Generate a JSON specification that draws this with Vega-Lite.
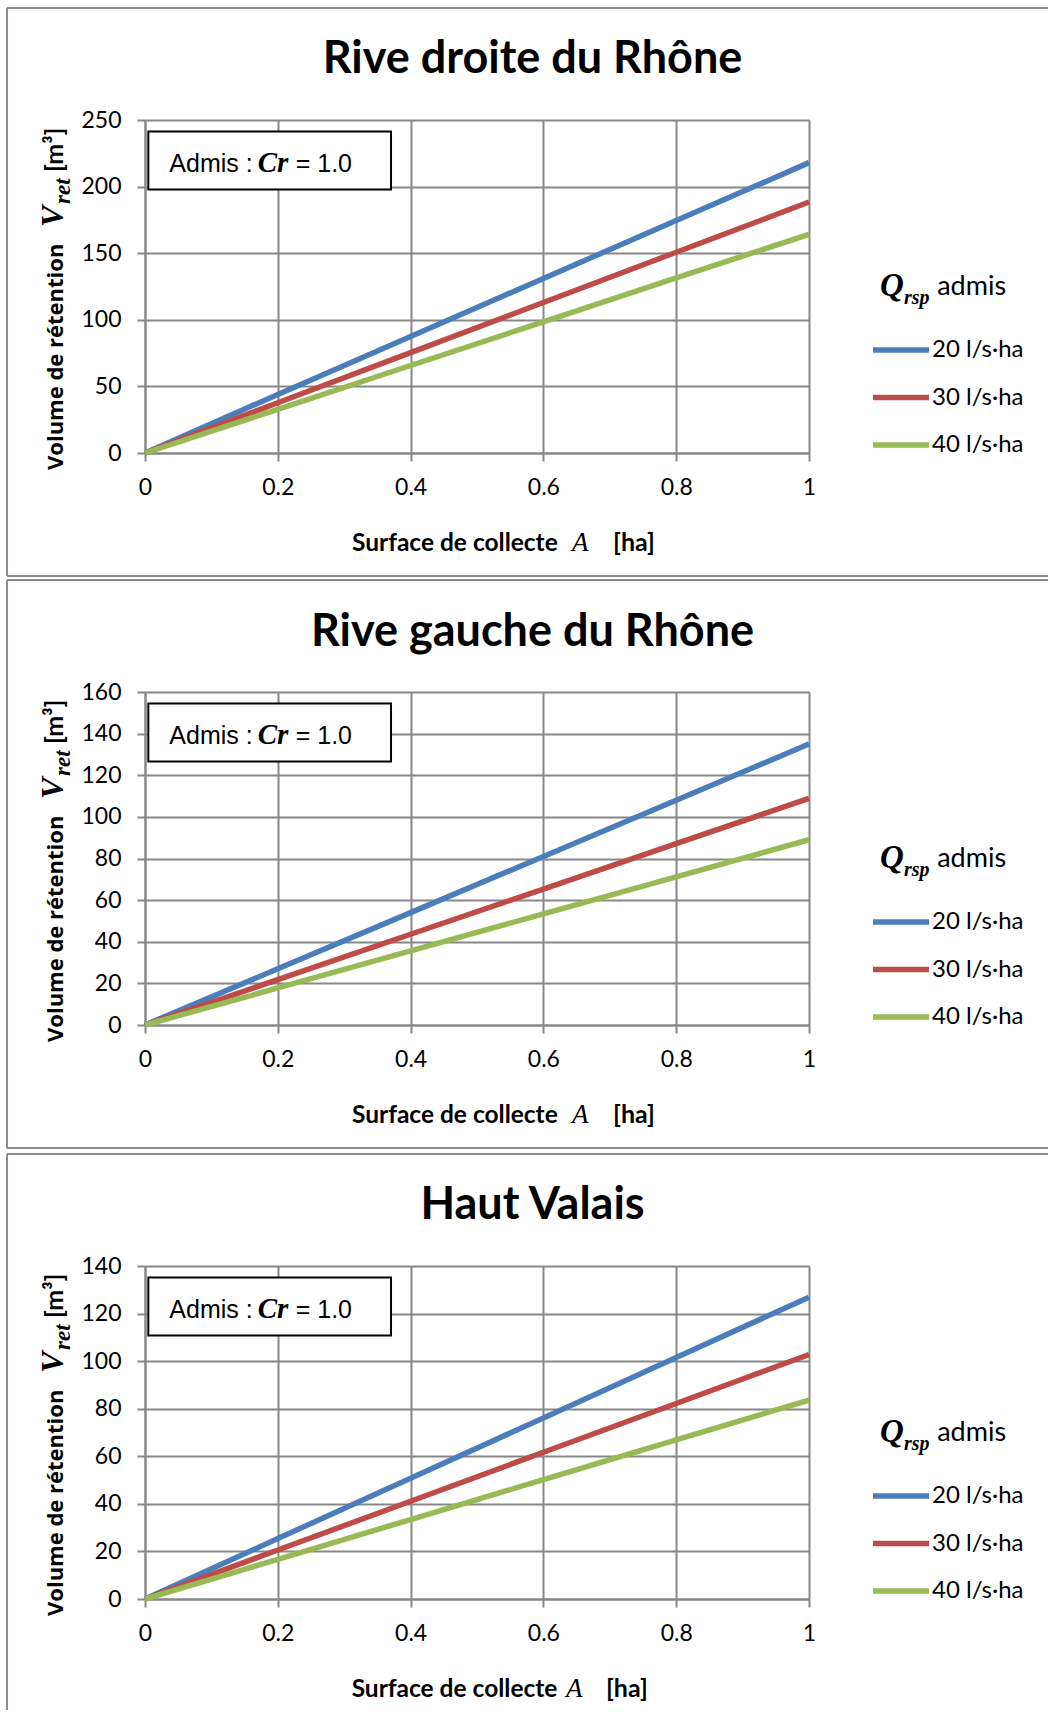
{
 "$schema": "https://vega.github.io/schema/vega-lite/v6.json",
 "background": "white",
 "padding": {"left": 6, "top": 7, "right": 0, "bottom": 0},
 "spacing": 2,
 "resolve": {"scale": {"color": "independent"}, "legend": {"color": "independent"}},
 "datasets": {
  "d1": [
   {"A": 0, "V": 0, "Q": "20 l/s·ha"}, {"A": 0.2, "V": 44, "Q": "20 l/s·ha"}, {"A": 0.4, "V": 87.5, "Q": "20 l/s·ha"}, {"A": 0.6, "V": 131, "Q": "20 l/s·ha"}, {"A": 0.8, "V": 174.5, "Q": "20 l/s·ha"}, {"A": 1, "V": 218, "Q": "20 l/s·ha"},
   {"A": 0, "V": 0, "Q": "30 l/s·ha"}, {"A": 0.2, "V": 37.7, "Q": "30 l/s·ha"}, {"A": 0.4, "V": 75.4, "Q": "30 l/s·ha"}, {"A": 0.6, "V": 113, "Q": "30 l/s·ha"}, {"A": 0.8, "V": 150.7, "Q": "30 l/s·ha"}, {"A": 1, "V": 188.4, "Q": "30 l/s·ha"},
   {"A": 0, "V": 0, "Q": "40 l/s·ha"}, {"A": 0.2, "V": 32.8, "Q": "40 l/s·ha"}, {"A": 0.4, "V": 65.7, "Q": "40 l/s·ha"}, {"A": 0.6, "V": 98.5, "Q": "40 l/s·ha"}, {"A": 0.8, "V": 131.4, "Q": "40 l/s·ha"}, {"A": 1, "V": 164.2, "Q": "40 l/s·ha"}
  ],
  "d2": [
   {"A": 0, "V": 0, "Q": "20 l/s·ha"}, {"A": 0.2, "V": 27, "Q": "20 l/s·ha"}, {"A": 0.4, "V": 54, "Q": "20 l/s·ha"}, {"A": 0.6, "V": 81, "Q": "20 l/s·ha"}, {"A": 0.8, "V": 108, "Q": "20 l/s·ha"}, {"A": 1, "V": 135, "Q": "20 l/s·ha"},
   {"A": 0, "V": 0, "Q": "30 l/s·ha"}, {"A": 0.2, "V": 21.8, "Q": "30 l/s·ha"}, {"A": 0.4, "V": 43.6, "Q": "30 l/s·ha"}, {"A": 0.6, "V": 65.3, "Q": "30 l/s·ha"}, {"A": 0.8, "V": 87.1, "Q": "30 l/s·ha"}, {"A": 1, "V": 108.9, "Q": "30 l/s·ha"},
   {"A": 0, "V": 0, "Q": "40 l/s·ha"}, {"A": 0.2, "V": 17.8, "Q": "40 l/s·ha"}, {"A": 0.4, "V": 35.6, "Q": "40 l/s·ha"}, {"A": 0.6, "V": 53.4, "Q": "40 l/s·ha"}, {"A": 0.8, "V": 71.2, "Q": "40 l/s·ha"}, {"A": 1, "V": 89, "Q": "40 l/s·ha"}
  ],
  "d3": [
   {"A": 0, "V": 0, "Q": "20 l/s·ha"}, {"A": 0.2, "V": 25.4, "Q": "20 l/s·ha"}, {"A": 0.4, "V": 50.8, "Q": "20 l/s·ha"}, {"A": 0.6, "V": 76.1, "Q": "20 l/s·ha"}, {"A": 0.8, "V": 101.5, "Q": "20 l/s·ha"}, {"A": 1, "V": 126.9, "Q": "20 l/s·ha"},
   {"A": 0, "V": 0, "Q": "30 l/s·ha"}, {"A": 0.2, "V": 20.6, "Q": "30 l/s·ha"}, {"A": 0.4, "V": 41.1, "Q": "30 l/s·ha"}, {"A": 0.6, "V": 61.7, "Q": "30 l/s·ha"}, {"A": 0.8, "V": 82.2, "Q": "30 l/s·ha"}, {"A": 1, "V": 102.8, "Q": "30 l/s·ha"},
   {"A": 0, "V": 0, "Q": "40 l/s·ha"}, {"A": 0.2, "V": 16.7, "Q": "40 l/s·ha"}, {"A": 0.4, "V": 33.4, "Q": "40 l/s·ha"}, {"A": 0.6, "V": 50.2, "Q": "40 l/s·ha"}, {"A": 0.8, "V": 66.9, "Q": "40 l/s·ha"}, {"A": 1, "V": 83.6, "Q": "40 l/s·ha"}
  ]
 },
 "vconcat": [
  {
   "width": 664, "height": 333,
   "layer": [
    {"data": {"name": "d1"}, "mark": {"type": "line", "strokeWidth": 5.5},
     "encoding": {
      "x": {"field": "A", "type": "quantitative", "scale": {"domain": [0, 1], "nice": false}, "axis": {"values": [0, 0.2, 0.4, 0.6, 0.8, 1], "format": "~g", "title": null}},
      "y": {"field": "V", "type": "quantitative", "scale": {"domain": [0, 250], "nice": false}, "axis": {"values": [0, 50, 100, 150, 200, 250], "format": "d", "title": null}},
      "color": {"field": "Q", "type": "nominal", "scale": {"domain": ["20 l/s·ha", "30 l/s·ha", "40 l/s·ha"], "range": ["#4A7EBB", "#BE4B48", "#98B954"]},
       "legend": {"orient": "none", "legendX": 725, "legendY": 199, "title": null, "symbolType": "stroke", "symbolSize": 3136, "symbolStrokeWidth": 5.5, "labelFont": "Lato", "labelFontSize": 24, "labelColor": "black", "rowPadding": 4.5, "labelOffset": 0, "padding": 0}}
     }},
    {"data": {"values": [{}]}, "mark": {"type": "rect", "fill": "white", "stroke": "black", "strokeWidth": 2}, "encoding": {"x": {"datum": 0.005}, "x2": {"datum": 0.3705}, "y": {"datum": 241.37}, "y2": {"datum": 197.82}}},
    {"data": {"values": [{}]}, "mark": {"type": "text", "text": "Admis :", "font": "Liberation Sans", "fontSize": 25, "align": "left", "baseline": "alphabetic", "color": "black"}, "encoding": {"x": {"datum": 0.0366}, "y": {"datum": 210.96}}},
    {"data": {"values": [{}]}, "mark": {"type": "text", "text": "Cr", "font": "Liberation Serif", "fontSize": 29, "fontWeight": "bold", "fontStyle": "italic", "align": "left", "baseline": "alphabetic", "color": "black"}, "encoding": {"x": {"datum": 0.1697}, "y": {"datum": 210.96}}},
    {"data": {"values": [{}]}, "mark": {"type": "text", "text": "= 1.0", "font": "Liberation Sans", "fontSize": 25, "align": "left", "baseline": "alphabetic", "color": "black"}, "encoding": {"x": {"datum": 0.227}, "y": {"datum": 210.96}}},
    {"data": {"values": [{}]}, "mark": {"type": "text", "text": "Rive droite du Rhône", "font": "Lato", "fontSize": 45, "fontWeight": "bold", "align": "center", "baseline": "alphabetic", "color": "black"}, "encoding": {"x": {"datum": 0.5836}, "y": {"datum": 284.91}}},
    {"data": {"values": [{}]}, "mark": {"type": "text", "text": "Volume de rétention", "font": "Open Sans", "fontSize": 22, "fontWeight": "bold", "angle": 270, "align": "left", "baseline": "alphabetic", "color": "black"}, "encoding": {"x": {"datum": -0.1235}, "y": {"datum": -12.76}}},
    {"data": {"values": [{}]}, "mark": {"type": "text", "text": "V", "font": "Liberation Serif", "fontSize": 32, "fontWeight": "bold", "fontStyle": "italic", "angle": 270, "align": "left", "baseline": "alphabetic", "color": "black"}, "encoding": {"x": {"datum": -0.1235}, "y": {"datum": 169.67}}},
    {"data": {"values": [{}]}, "mark": {"type": "text", "text": "ret", "font": "Liberation Serif", "fontSize": 23, "fontWeight": "bold", "fontStyle": "italic", "angle": 270, "align": "left", "baseline": "alphabetic", "color": "black"}, "encoding": {"x": {"datum": -0.113}, "y": {"datum": 186.94}}},
    {"data": {"values": [{}]}, "mark": {"type": "text", "text": "[m³]", "font": "Lato", "fontSize": 25, "fontWeight": "bold", "angle": 270, "align": "left", "baseline": "alphabetic", "color": "black"}, "encoding": {"x": {"datum": -0.1235}, "y": {"datum": 210.96}}},
    {"data": {"values": [{}]}, "mark": {"type": "text", "text": "Surface de collecte", "font": "Lato", "fontSize": 24.5, "fontWeight": "bold", "align": "left", "baseline": "alphabetic", "color": "black"}, "encoding": {"x": {"datum": 0.3117}, "y": {"datum": -73.57}}},
    {"data": {"values": [{}]}, "mark": {"type": "text", "text": "A", "font": "Liberation Serif", "fontSize": 27, "fontStyle": "italic", "align": "left", "baseline": "alphabetic", "color": "black"}, "encoding": {"x": {"datum": 0.643}, "y": {"datum": -73.57}}},
    {"data": {"values": [{}]}, "mark": {"type": "text", "text": "[ha]", "font": "Lato", "fontSize": 25, "fontWeight": "bold", "align": "left", "baseline": "alphabetic", "color": "black"}, "encoding": {"x": {"datum": 0.705}, "y": {"datum": -73.57}}},
    {"data": {"values": [{}]}, "mark": {"type": "text", "text": "Q", "font": "Liberation Serif", "fontSize": 33, "fontWeight": "bold", "fontStyle": "italic", "align": "left", "baseline": "alphabetic", "color": "black"}, "encoding": {"x": {"datum": 1.107}, "y": {"datum": 117.87}}},
    {"data": {"values": [{}]}, "mark": {"type": "text", "text": "rsp", "font": "Liberation Serif", "fontSize": 20, "fontWeight": "bold", "fontStyle": "italic", "align": "left", "baseline": "alphabetic", "color": "black"}, "encoding": {"x": {"datum": 1.143}, "y": {"datum": 111.86}}},
    {"data": {"values": [{}]}, "mark": {"type": "text", "text": "admis", "font": "Lato", "fontSize": 27, "align": "left", "baseline": "alphabetic", "color": "black"}, "encoding": {"x": {"datum": 1.193}, "y": {"datum": 118.62}}},
    {"data": {"values": [{}]}, "mark": {"type": "rule", "color": "#8c8c8c", "strokeWidth": 2}, "encoding": {"x": {"datum": -0.2078}, "x2": {"datum": 1.36}, "y": {"datum": 334.08}}},
    {"data": {"values": [{}]}, "mark": {"type": "rule", "color": "#8c8c8c", "strokeWidth": 2}, "encoding": {"x": {"datum": -0.2078}, "y": {"datum": 334.08}, "y2": {"datum": -92.34}}},
    {"data": {"values": [{}]}, "mark": {"type": "rule", "color": "#8c8c8c", "strokeWidth": 2}, "encoding": {"x": {"datum": -0.2078}, "x2": {"datum": 1.36}, "y": {"datum": -92.34}}}
   ]
  },
  {
   "width": 664, "height": 333,
   "layer": [
    {"data": {"name": "d2"}, "mark": {"type": "line", "strokeWidth": 5.5},
     "encoding": {
      "x": {"field": "A", "type": "quantitative", "scale": {"domain": [0, 1], "nice": false}, "axis": {"values": [0, 0.2, 0.4, 0.6, 0.8, 1], "format": "~g", "title": null}},
      "y": {"field": "V", "type": "quantitative", "scale": {"domain": [0, 160], "nice": false}, "axis": {"values": [0, 20, 40, 60, 80, 100, 120, 140, 160], "format": "d", "title": null}},
      "color": {"field": "Q", "type": "nominal", "scale": {"domain": ["20 l/s·ha", "30 l/s·ha", "40 l/s·ha"], "range": ["#4A7EBB", "#BE4B48", "#98B954"]},
       "legend": {"orient": "none", "legendX": 725, "legendY": 199, "title": null, "symbolType": "stroke", "symbolSize": 3136, "symbolStrokeWidth": 5.5, "labelFont": "Lato", "labelFontSize": 24, "labelColor": "black", "rowPadding": 4.5, "labelOffset": 0, "padding": 0}}
     }},
    {"data": {"values": [{}]}, "mark": {"type": "rect", "fill": "white", "stroke": "black", "strokeWidth": 2}, "encoding": {"x": {"datum": 0.005}, "x2": {"datum": 0.3705}, "y": {"datum": 154.47}, "y2": {"datum": 126.61}}},
    {"data": {"values": [{}]}, "mark": {"type": "text", "text": "Admis :", "font": "Liberation Sans", "fontSize": 25, "align": "left", "baseline": "alphabetic", "color": "black"}, "encoding": {"x": {"datum": 0.0366}, "y": {"datum": 135.02}}},
    {"data": {"values": [{}]}, "mark": {"type": "text", "text": "Cr", "font": "Liberation Serif", "fontSize": 29, "fontWeight": "bold", "fontStyle": "italic", "align": "left", "baseline": "alphabetic", "color": "black"}, "encoding": {"x": {"datum": 0.1697}, "y": {"datum": 135.02}}},
    {"data": {"values": [{}]}, "mark": {"type": "text", "text": "= 1.0", "font": "Liberation Sans", "fontSize": 25, "align": "left", "baseline": "alphabetic", "color": "black"}, "encoding": {"x": {"datum": 0.227}, "y": {"datum": 135.02}}},
    {"data": {"values": [{}]}, "mark": {"type": "text", "text": "Rive gauche du Rhône", "font": "Lato", "fontSize": 45, "fontWeight": "bold", "align": "center", "baseline": "alphabetic", "color": "black"}, "encoding": {"x": {"datum": 0.5836}, "y": {"datum": 182.34}}},
    {"data": {"values": [{}]}, "mark": {"type": "text", "text": "Volume de rétention", "font": "Open Sans", "fontSize": 22, "fontWeight": "bold", "angle": 270, "align": "left", "baseline": "alphabetic", "color": "black"}, "encoding": {"x": {"datum": -0.1235}, "y": {"datum": -8.17}}},
    {"data": {"values": [{}]}, "mark": {"type": "text", "text": "V", "font": "Liberation Serif", "fontSize": 32, "fontWeight": "bold", "fontStyle": "italic", "angle": 270, "align": "left", "baseline": "alphabetic", "color": "black"}, "encoding": {"x": {"datum": -0.1235}, "y": {"datum": 108.59}}},
    {"data": {"values": [{}]}, "mark": {"type": "text", "text": "ret", "font": "Liberation Serif", "fontSize": 23, "fontWeight": "bold", "fontStyle": "italic", "angle": 270, "align": "left", "baseline": "alphabetic", "color": "black"}, "encoding": {"x": {"datum": -0.113}, "y": {"datum": 119.64}}},
    {"data": {"values": [{}]}, "mark": {"type": "text", "text": "[m³]", "font": "Lato", "fontSize": 25, "fontWeight": "bold", "angle": 270, "align": "left", "baseline": "alphabetic", "color": "black"}, "encoding": {"x": {"datum": -0.1235}, "y": {"datum": 135.02}}},
    {"data": {"values": [{}]}, "mark": {"type": "text", "text": "Surface de collecte", "font": "Lato", "fontSize": 24.5, "fontWeight": "bold", "align": "left", "baseline": "alphabetic", "color": "black"}, "encoding": {"x": {"datum": 0.3117}, "y": {"datum": -47.09}}},
    {"data": {"values": [{}]}, "mark": {"type": "text", "text": "A", "font": "Liberation Serif", "fontSize": 27, "fontStyle": "italic", "align": "left", "baseline": "alphabetic", "color": "black"}, "encoding": {"x": {"datum": 0.643}, "y": {"datum": -47.09}}},
    {"data": {"values": [{}]}, "mark": {"type": "text", "text": "[ha]", "font": "Lato", "fontSize": 25, "fontWeight": "bold", "align": "left", "baseline": "alphabetic", "color": "black"}, "encoding": {"x": {"datum": 0.705}, "y": {"datum": -47.09}}},
    {"data": {"values": [{}]}, "mark": {"type": "text", "text": "Q", "font": "Liberation Serif", "fontSize": 33, "fontWeight": "bold", "fontStyle": "italic", "align": "left", "baseline": "alphabetic", "color": "black"}, "encoding": {"x": {"datum": 1.107}, "y": {"datum": 75.44}}},
    {"data": {"values": [{}]}, "mark": {"type": "text", "text": "rsp", "font": "Liberation Serif", "fontSize": 20, "fontWeight": "bold", "fontStyle": "italic", "align": "left", "baseline": "alphabetic", "color": "black"}, "encoding": {"x": {"datum": 1.143}, "y": {"datum": 71.59}}},
    {"data": {"values": [{}]}, "mark": {"type": "text", "text": "admis", "font": "Lato", "fontSize": 27, "align": "left", "baseline": "alphabetic", "color": "black"}, "encoding": {"x": {"datum": 1.193}, "y": {"datum": 75.92}}},
    {"data": {"values": [{}]}, "mark": {"type": "rule", "color": "#8c8c8c", "strokeWidth": 2}, "encoding": {"x": {"datum": -0.2078}, "x2": {"datum": 1.36}, "y": {"datum": 213.81}}},
    {"data": {"values": [{}]}, "mark": {"type": "rule", "color": "#8c8c8c", "strokeWidth": 2}, "encoding": {"x": {"datum": -0.2078}, "y": {"datum": 213.81}, "y2": {"datum": -59.10}}},
    {"data": {"values": [{}]}, "mark": {"type": "rule", "color": "#8c8c8c", "strokeWidth": 2}, "encoding": {"x": {"datum": -0.2078}, "x2": {"datum": 1.36}, "y": {"datum": -59.10}}}
   ]
  },
  {
   "width": 664, "height": 333,
   "layer": [
    {"data": {"name": "d3"}, "mark": {"type": "line", "strokeWidth": 5.5},
     "encoding": {
      "x": {"field": "A", "type": "quantitative", "scale": {"domain": [0, 1], "nice": false}, "axis": {"values": [0, 0.2, 0.4, 0.6, 0.8, 1], "format": "~g", "title": null}},
      "y": {"field": "V", "type": "quantitative", "scale": {"domain": [0, 140], "nice": false}, "axis": {"values": [0, 20, 40, 60, 80, 100, 120, 140], "format": "d", "title": null}},
      "color": {"field": "Q", "type": "nominal", "scale": {"domain": ["20 l/s·ha", "30 l/s·ha", "40 l/s·ha"], "range": ["#4A7EBB", "#BE4B48", "#98B954"]},
       "legend": {"orient": "none", "legendX": 725, "legendY": 199, "title": null, "symbolType": "stroke", "symbolSize": 3136, "symbolStrokeWidth": 5.5, "labelFont": "Lato", "labelFontSize": 24, "labelColor": "black", "rowPadding": 4.5, "labelOffset": 0, "padding": 0}}
     }},
    {"data": {"values": [{}]}, "mark": {"type": "rect", "fill": "white", "stroke": "black", "strokeWidth": 2}, "encoding": {"x": {"datum": 0.005}, "x2": {"datum": 0.3705}, "y": {"datum": 135.17}, "y2": {"datum": 110.78}}},
    {"data": {"values": [{}]}, "mark": {"type": "text", "text": "Admis :", "font": "Liberation Sans", "fontSize": 25, "align": "left", "baseline": "alphabetic", "color": "black"}, "encoding": {"x": {"datum": 0.0366}, "y": {"datum": 118.14}}},
    {"data": {"values": [{}]}, "mark": {"type": "text", "text": "Cr", "font": "Liberation Serif", "fontSize": 29, "fontWeight": "bold", "fontStyle": "italic", "align": "left", "baseline": "alphabetic", "color": "black"}, "encoding": {"x": {"datum": 0.1697}, "y": {"datum": 118.14}}},
    {"data": {"values": [{}]}, "mark": {"type": "text", "text": "= 1.0", "font": "Liberation Sans", "fontSize": 25, "align": "left", "baseline": "alphabetic", "color": "black"}, "encoding": {"x": {"datum": 0.227}, "y": {"datum": 118.14}}},
    {"data": {"values": [{}]}, "mark": {"type": "text", "text": "Haut Valais", "font": "Lato", "fontSize": 45, "fontWeight": "bold", "align": "center", "baseline": "alphabetic", "color": "black"}, "encoding": {"x": {"datum": 0.5836}, "y": {"datum": 159.55}}},
    {"data": {"values": [{}]}, "mark": {"type": "text", "text": "Volume de rétention", "font": "Open Sans", "fontSize": 22, "fontWeight": "bold", "angle": 270, "align": "left", "baseline": "alphabetic", "color": "black"}, "encoding": {"x": {"datum": -0.1235}, "y": {"datum": -7.15}}},
    {"data": {"values": [{}]}, "mark": {"type": "text", "text": "V", "font": "Liberation Serif", "fontSize": 32, "fontWeight": "bold", "fontStyle": "italic", "angle": 270, "align": "left", "baseline": "alphabetic", "color": "black"}, "encoding": {"x": {"datum": -0.1235}, "y": {"datum": 95.02}}},
    {"data": {"values": [{}]}, "mark": {"type": "text", "text": "ret", "font": "Liberation Serif", "fontSize": 23, "fontWeight": "bold", "fontStyle": "italic", "angle": 270, "align": "left", "baseline": "alphabetic", "color": "black"}, "encoding": {"x": {"datum": -0.113}, "y": {"datum": 104.68}}},
    {"data": {"values": [{}]}, "mark": {"type": "text", "text": "[m³]", "font": "Lato", "fontSize": 25, "fontWeight": "bold", "angle": 270, "align": "left", "baseline": "alphabetic", "color": "black"}, "encoding": {"x": {"datum": -0.1235}, "y": {"datum": 118.14}}},
    {"data": {"values": [{}]}, "mark": {"type": "text", "text": "Surface de collecte", "font": "Lato", "fontSize": 24.5, "fontWeight": "bold", "align": "left", "baseline": "alphabetic", "color": "black"}, "encoding": {"x": {"datum": 0.3112}, "y": {"datum": -41.20}}},
    {"data": {"values": [{}]}, "mark": {"type": "text", "text": "A", "font": "Liberation Serif", "fontSize": 27, "fontStyle": "italic", "align": "left", "baseline": "alphabetic", "color": "black"}, "encoding": {"x": {"datum": 0.634}, "y": {"datum": -41.20}}},
    {"data": {"values": [{}]}, "mark": {"type": "text", "text": "[ha]", "font": "Lato", "fontSize": 25, "fontWeight": "bold", "align": "left", "baseline": "alphabetic", "color": "black"}, "encoding": {"x": {"datum": 0.6943}, "y": {"datum": -41.20}}},
    {"data": {"values": [{}]}, "mark": {"type": "text", "text": "Q", "font": "Liberation Serif", "fontSize": 33, "fontWeight": "bold", "fontStyle": "italic", "align": "left", "baseline": "alphabetic", "color": "black"}, "encoding": {"x": {"datum": 1.107}, "y": {"datum": 66.01}}},
    {"data": {"values": [{}]}, "mark": {"type": "text", "text": "rsp", "font": "Liberation Serif", "fontSize": 20, "fontWeight": "bold", "fontStyle": "italic", "align": "left", "baseline": "alphabetic", "color": "black"}, "encoding": {"x": {"datum": 1.143}, "y": {"datum": 62.64}}},
    {"data": {"values": [{}]}, "mark": {"type": "text", "text": "admis", "font": "Lato", "fontSize": 27, "align": "left", "baseline": "alphabetic", "color": "black"}, "encoding": {"x": {"datum": 1.193}, "y": {"datum": 66.43}}},
    {"data": {"values": [{}]}, "mark": {"type": "rule", "color": "#8c8c8c", "strokeWidth": 2}, "encoding": {"x": {"datum": -0.2078}, "x2": {"datum": 1.36}, "y": {"datum": 187.09}}},
    {"data": {"values": [{}]}, "mark": {"type": "rule", "color": "#8c8c8c", "strokeWidth": 2}, "encoding": {"x": {"datum": -0.2078}, "y": {"datum": 187.09}, "y2": {"datum": -46.67}}}
   ]
  }
 ],
 "config": {
  "view": {"stroke": null},
  "axis": {"grid": true, "gridColor": "#878787", "gridWidth": 2, "domainColor": "#878787", "domainWidth": 2, "tickColor": "#878787", "tickWidth": 2, "tickSize": 8, "labelFont": "Lato", "labelFontSize": 23, "labelColor": "black", "labelFlush": false},
  "axisX": {"labelPadding": 15},
  "axisY": {"labelPadding": 16}
 }
}
